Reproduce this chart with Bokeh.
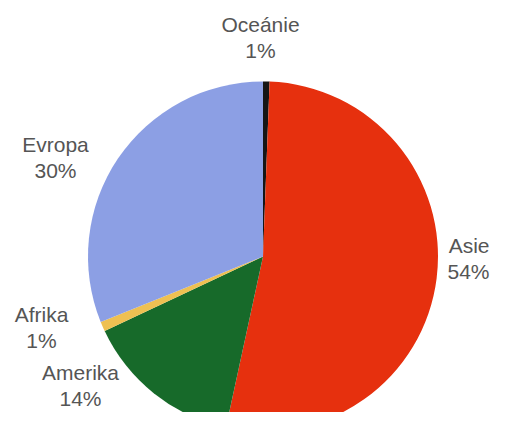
import math
from bokeh.plotting import figure
from bokeh.models import Range1d, ColumnDataSource
from bokeh.core.properties import value
from bokeh.embed import file_html
from bokeh.resources import INLINE

# Data (clockwise from 12 o'clock), shares (%)
regions = ["Oceánie", "Asie", "Amerika", "Afrika", "Evropa"]
shares = [0.6, 52.8, 14.6, 0.9, 31.1]
pct_labels = ["1%", "54%", "14%", "1%", "30%"]
colors = ["#151515", "#e6300e", "#176a2a", "#eec052", "#8c9fe4"]

W, H = 490, 412
p = figure(width=W, height=H, output_backend="svg", toolbar_location=None,
           x_range=Range1d(0, W), y_range=Range1d(0, H), min_border=0,
           background_fill_color="white", border_fill_color="white")
p.axis.visible = False
p.grid.visible = False
p.outline_line_color = None

cx, cy, r = 262.5, 156.0, 175.0

total = sum(shares)
starts, ends = [], []
cum = 0.0
for s in shares:
    a0 = cum / total * 2 * math.pi
    cum += s
    a1 = cum / total * 2 * math.pi
    starts.append(math.pi / 2 - a0)
    ends.append(math.pi / 2 - a1)

src = ColumnDataSource(dict(start=starts, end=ends, color=colors, name=regions))
p.wedge(x=cx, y=cy, radius=r, start_angle="start", end_angle="end",
        direction="clock", fill_color="color", line_color=None, source=src)

# label placement (x, baseline of first line) in figure units
lab_x = [260, 489, 80, 41, 55]
lab_y = [388, 167, 40, 98, 268]
lab_align = ["center", "right", "center", "center", "center"]
line_gap = 26

for name, pct, x, y, al in zip(regions, pct_labels, lab_x, lab_y, lab_align):
    p.text(x=[x, x], y=[y, y - line_gap], text=[name, pct],
           text_font=value("Liberation Sans"), text_font_size="21px",
           text_color="#555555", text_align=al, text_baseline="alphabetic")

open("out.html", "w").write(file_html(p, INLINE))
